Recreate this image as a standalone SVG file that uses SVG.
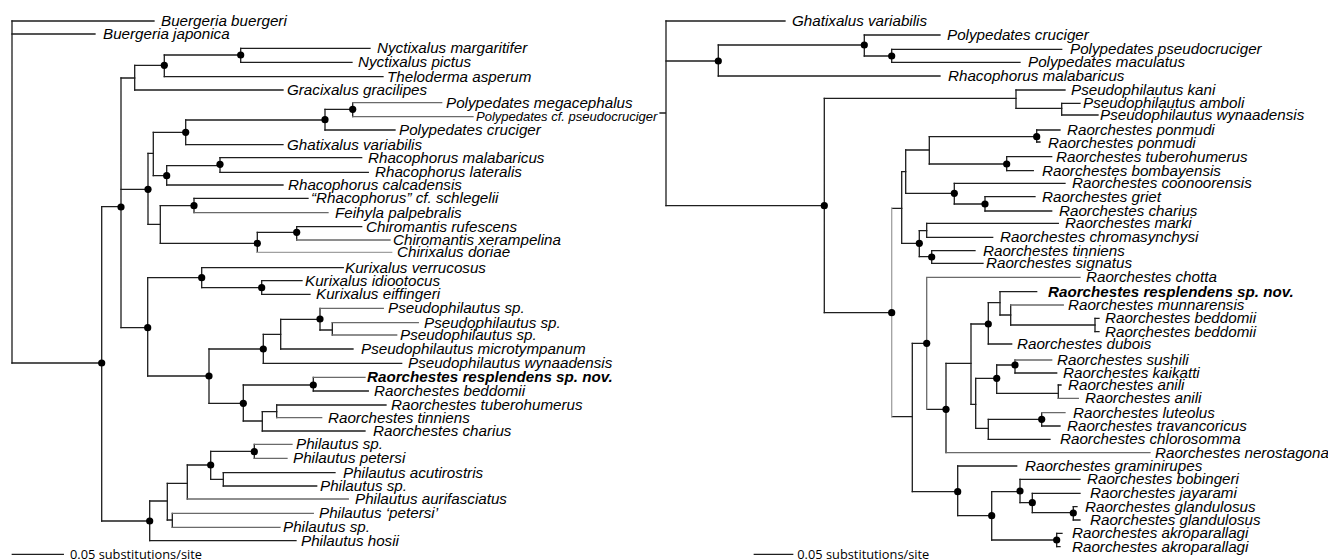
<svg xmlns="http://www.w3.org/2000/svg" width="1328" height="559" viewBox="0 0 1328 559">
<style>
.bg{fill:#ffffff}
.c path{fill:none;stroke:#1e1e1e;stroke-width:1.3;stroke-linecap:square}
.c path.g{stroke:#6a6a6a}
.c path.l{stroke:#a0a0a0}
.d circle{fill:#000}
text{font-family:"Liberation Sans",Arial,sans-serif;font-size:15.2px;font-style:italic;fill:#000}
text.b{font-weight:bold}
text.s{font-size:13px}
text.sc{font-family:"Open Sans","Noto Sans",sans-serif;font-style:normal;font-size:12px}
</style>
<rect class="bg" x="0" y="0" width="1328" height="559"/>

<!-- LEFT TREE connectors -->
<g id="connectors-left" class="c">
<path d="M12,21V363M101.7,206.7V521M121,78V327.7M134.7,65.3V90M164.3,55V76.7M240.7,48.3V62.3M148,153.3V224.3M153.3,132.3V175.7M185.7,120V144.7M325,109.3V130M352.7,102.7V116.7M166.7,165.7V185M220,157.7V172.3M160.3,205.7V243.3M194,198.3V212.7M257.3,232.3V252.3M296.7,226.7V240M147.7,277.7V376M201.7,267.7V287.7M261.7,280.7V294.3M209,349V403.3M263.3,334.3V363.3M280.7,319.3V349M320,308.3V330M332.3,322.7V335M243.3,385V421M313.3,377.3V391M262.3,411.7V431M276.7,405V417.7M149.7,501V540.7M167.3,483.3V520M187.3,465V499M210.7,451.3V479.3M254.3,444.3V458.3M223.3,472.7V486M172.3,513.3V527.3"/>
<path d="M12,21H154M12,34H95M12,363H101.7M101.7,206.7H121M101.7,521H149.7M121,78H134.7M121,189.3H148M121,327.7H147.7M134.7,65.3H164.3M134.7,90H283M164.3,55H240.7M164.3,76.7H383M240.7,48.3H370M240.7,62.3H352M148,153.3H153.3M148,224.3H160.3M153.3,132.3H185.7M153.3,175.7H166.7M185.7,120H325M185.7,144.7H283M325,109.3H352.7M325,130H395M166.7,165.7H220M166.7,185H283M220,157.7H361.7M220,172.3H368.3M160.3,205.7H194M160.3,243.3H257.3M194,198.3H308M257.3,232.3H296.7M296.7,226.7H361.7M147.7,277.7H201.7M147.7,376H209M201.7,267.7H343.3M201.7,287.7H261.7M261.7,280.7H302M261.7,294.3H310M209,349H263.3M209,403.3H243.3M263.3,334.3H280.7M263.3,363.3H401.7M280.7,319.3H320M280.7,349H353M320,330H332.3M243.3,385H313.3M243.3,421H262.3M313.3,391H368.3M262.3,411.7H276.7M262.3,431H365M276.7,405H386M149.7,501H167.3M149.7,540.7H296M167.3,483.3H187.3M167.3,520H172.3M187.3,465H210.7M210.7,451.3H254.3M210.7,479.3H223.3M223.3,472.7H335M223.3,486H316.7"/>
<path class="g" d="M352.7,102.7H441.7M352.7,116.7H473M194,212.7H328M296.7,240H390M320,308.3H383.3M332.3,322.7H418.3M332.3,335H396.7M313.3,377.3H365M276.7,417.7H321.7M254.3,444.3H292M254.3,458.3H287M187.3,499H348.3M172.3,513.3H313.3M172.3,527.3H280"/>
<path class="l" d="M257.3,252.3H391.7"/>
<path d="M12.3,554.3H63.3"/>
</g>

<!-- RIGHT TREE connectors -->
<g id="connectors-right" class="c">
<path d="M660,113H666M666,21V205.7M718.3,45V76M864.3,35V56M891.7,49.3V62.3M824.3,98.3V312.7M1016,90V108.3M1061.7,103.3V115M901.7,171.7V243.3M905.7,150V193.3M929.3,136.7V164M1036.7,130V142M1006.7,156.7V170.7M954.3,183.3V204M985,196.7V211M919.3,230.7V256.7M926.7,223.3V237.3M931.7,250.7V263.3M912.3,343.3V491.7M946,363.3V452.7M971,324V404.3M988.3,302.7V344M1000,291.7V315M1010.7,305V325M1095,318.3V331.7M975.7,378.3V428.3M996.7,365V393.3M1015,360V373M1058.3,385V398.3M988.3,419.3V439.3M1041.7,412.7V426M957.7,466V515.7M991.7,491.7V540M1020,479.3V502.7M1032.3,493.3V512.7M1073.3,506.7V520M1056.7,533.3V546.7"/>
<path d="M666,21H785M666,61H718.3M666,205.7H824.3M718.3,45H864.3M718.3,76H940M864.3,35H940M864.3,56H891.7M891.7,49.3H1061.7M891.7,62.3H1020M824.3,98.3H1016M824.3,312.7H891.7M1016,90H1065M1016,108.3H1061.7M1061.7,103.3H1080M1061.7,115H1098M891.7,208.3H901.7M891.7,416.7H912.3M901.7,171.7H905.7M901.7,243.3H919.3M905.7,150H929.3M905.7,193.3H954.3M929.3,136.7H1036.7M929.3,164H1006.7M1036.7,130H1060M1036.7,142H1040M1006.7,156.7H1051.7M1006.7,170.7H1033.3M954.3,183.3H1065M954.3,204H985M985,196.7H1035M985,211H1051.7M919.3,230.7H926.7M919.3,256.7H931.7M926.7,223.3H1058.3M926.7,237.3H992.7M931.7,250.7H975M931.7,263.3H983M912.3,343.3H926.7M912.3,491.7H957.7M926.7,409.3H946M946,363.3H971M971,324H988.3M971,404.3H975.7M988.3,302.7H1000M988.3,344H1011.7M1000,291.7H1036.7M1000,315H1010.7M1010.7,325H1095M1095,318.3H1099M1095,331.7H1099M975.7,378.3H996.7M975.7,428.3H988.3M996.7,365H1015M996.7,393.3H1058.3M1015,373H1056.7M1058.3,385H1061M988.3,419.3H1041.7M988.3,439.3H1050M1041.7,426H1060M957.7,466H1016.7M957.7,515.7H991.7M991.7,491.7H1020M991.7,540H1056.7M1020,479.3H1080M1020,502.7H1032.3M1032.3,493.3H1080M1032.3,512.7H1073.3M1073.3,506.7H1077M1073.3,520H1080M1056.7,533.3H1062M1056.7,546.7H1060"/>
<path class="g" d="M926.7,277.3V409.3M926.7,277.3H1080M1010.7,305H1063.3M946,452.7H1150M1015,360H1051.7M1041.7,412.7H1065M1058.3,398.3H1078.3"/>
<path class="l" d="M891.7,208.3V416.7"/>
<path d="M754.3,554.3H792.7"/>
</g>

<g id="support-dots" class="d">
<circle cx="101.7" cy="363" r="3.6"/><circle cx="121" cy="207" r="3.6"/><circle cx="164.3" cy="65.3" r="3.6"/><circle cx="240.7" cy="55" r="3.6"/><circle cx="148" cy="189.3" r="3.6"/><circle cx="185.7" cy="132.3" r="3.6"/><circle cx="325" cy="119.7" r="3.6"/><circle cx="352.7" cy="109.3" r="3.6"/><circle cx="166.7" cy="175.7" r="3.6"/><circle cx="220" cy="164.3" r="3.6"/><circle cx="194" cy="205.7" r="3.6"/><circle cx="257.3" cy="243.3" r="3.6"/><circle cx="296.7" cy="232.3" r="3.6"/><circle cx="147.7" cy="327.7" r="3.6"/><circle cx="201.7" cy="277.7" r="3.6"/><circle cx="261.7" cy="287.7" r="3.6"/><circle cx="209" cy="376" r="3.6"/><circle cx="263.3" cy="349" r="3.6"/><circle cx="320" cy="319" r="3.6"/><circle cx="243.3" cy="403.3" r="3.6"/><circle cx="313.3" cy="385" r="3.6"/><circle cx="149.7" cy="521" r="3.6"/><circle cx="210.7" cy="465" r="3.6"/><circle cx="254.3" cy="451.7" r="3.6"/>
<circle cx="718.3" cy="61" r="3.6"/><circle cx="864.3" cy="45" r="3.6"/><circle cx="891.7" cy="56" r="3.6"/><circle cx="824.3" cy="205.7" r="3.6"/><circle cx="891.7" cy="312.7" r="3.6"/><circle cx="1036.7" cy="136.7" r="3.6"/><circle cx="1006.7" cy="164" r="3.6"/><circle cx="954.3" cy="193.3" r="3.6"/><circle cx="985" cy="204" r="3.6"/><circle cx="919.3" cy="243.3" r="3.6"/><circle cx="931.7" cy="257" r="3.6"/><circle cx="926.7" cy="343.3" r="3.6"/><circle cx="957.7" cy="491.7" r="3.6"/><circle cx="946" cy="409.3" r="3.6"/><circle cx="988.3" cy="324" r="3.6"/><circle cx="996.7" cy="378.3" r="3.6"/><circle cx="1015" cy="365" r="3.6"/><circle cx="1041.7" cy="419.3" r="3.6"/><circle cx="991.7" cy="515.7" r="3.6"/><circle cx="1020" cy="491" r="3.6"/><circle cx="1032.3" cy="502.7" r="3.6"/><circle cx="1073.3" cy="513" r="3.6"/><circle cx="1056.7" cy="540" r="3.6"/>
</g>

<!-- LEFT TREE labels -->
<g id="L01"><text x="161" y="26">Buergeria buergeri</text></g>
<g id="L02"><text x="103" y="39">Buergeria japonica</text></g>
<g id="L03"><text x="377" y="53.3">Nyctixalus margaritifer</text></g>
<g id="L04"><text x="358" y="67.3">Nyctixalus pictus</text></g>
<g id="L05"><text x="387" y="81.7">Theloderma asperum</text></g>
<g id="L06"><text x="287" y="95">Gracixalus gracilipes</text></g>
<g id="L07"><text x="446" y="107.7">Polypedates megacephalus</text></g>
<g id="L08"><text class="s" x="476" y="121">Polypedates cf. pseudocruciger</text></g>
<g id="L09"><text x="399" y="135">Polypedates cruciger</text></g>
<g id="L10"><text x="287" y="149.7">Ghatixalus variabilis</text></g>
<g id="L11"><text x="368" y="162.7">Rhacophorus malabaricus</text></g>
<g id="L12"><text x="375" y="177.3">Rhacophorus lateralis</text></g>
<g id="L13"><text x="288" y="190">Rhacophorus calcadensis</text></g>
<g id="L14"><text x="311" y="203.3">“Rhacophorus” cf. schlegelii</text></g>
<g id="L15"><text x="335" y="217.7">Feihyla palpebralis</text></g>
<g id="L16"><text x="366" y="231.7">Chiromantis rufescens</text></g>
<g id="L17"><text x="393" y="245">Chiromantis xerampelina</text></g>
<g id="L18"><text x="397" y="257.3">Chirixalus doriae</text></g>
<g id="L19"><text x="345" y="272.7">Kurixalus verrucosus</text></g>
<g id="L20"><text x="305" y="285.7">Kurixalus idiootocus</text></g>
<g id="L21"><text x="316" y="299.3">Kurixalus eiffingeri</text></g>
<g id="L22"><text x="388" y="313.3">Pseudophilautus sp.</text></g>
<g id="L23"><text x="424" y="327.7">Pseudophilautus sp.</text></g>
<g id="L24"><text x="400" y="340">Pseudophilautus sp.</text></g>
<g id="L25"><text x="361" y="354">Pseudophilautus microtympanum</text></g>
<g id="L26"><text x="408" y="368.3">Pseudophilautus wynaadensis</text></g>
<g id="L27"><text class="b" x="367" y="382.3">Raorchestes resplendens sp. nov.</text></g>
<g id="L28"><text x="374" y="396">Raorchestes beddomii</text></g>
<g id="L29"><text x="391" y="410">Raorchestes tuberohumerus</text></g>
<g id="L30"><text x="328" y="422.7">Raorchestes tinniens</text></g>
<g id="L31"><text x="373" y="436">Raorchestes charius</text></g>
<g id="L32"><text x="296" y="449.3">Philautus sp.</text></g>
<g id="L33"><text x="293" y="463.3">Philautus petersi</text></g>
<g id="L34"><text x="343" y="477.7">Philautus acutirostris</text></g>
<g id="L35"><text x="320" y="491">Philautus sp.</text></g>
<g id="L36"><text x="355" y="504">Philautus aurifasciatus</text></g>
<g id="L37"><text x="319" y="518.3">Philautus ‘petersi’</text></g>
<g id="L38"><text x="283" y="532.3">Philautus sp.</text></g>
<g id="L39"><text x="301" y="545.7">Philautus hosii</text></g>
<g id="scale-left"><text class="sc" x="70" y="558.5" textLength="132" lengthAdjust="spacingAndGlyphs">0.05 substitutions/site</text></g>

<!-- RIGHT TREE labels -->
<g id="R01"><text x="792" y="26">Ghatixalus variabilis</text></g>
<g id="R02"><text x="947" y="40">Polypedates cruciger</text></g>
<g id="R03"><text x="1070" y="54.3">Polypedates pseudocruciger</text></g>
<g id="R04"><text x="1028" y="67.3">Polypedates maculatus</text></g>
<g id="R05"><text x="948" y="81">Rhacophorus malabaricus</text></g>
<g id="R06"><text x="1071" y="95">Pseudophilautus kani</text></g>
<g id="R07"><text x="1083" y="108.3">Pseudophilautus amboli</text></g>
<g id="R08"><text x="1100" y="120">Pseudophilautus wynaadensis</text></g>
<g id="R09"><text x="1067" y="135">Raorchestes ponmudi</text></g>
<g id="R10"><text x="1048" y="148">Raorchestes ponmudi</text></g>
<g id="R11"><text x="1056" y="161.7">Raorchestes tuberohumerus</text></g>
<g id="R12"><text x="1042" y="175.7">Raorchestes bombayensis</text></g>
<g id="R13"><text x="1072" y="188.3">Raorchestes coonoorensis</text></g>
<g id="R14"><text x="1042" y="201.7">Raorchestes griet</text></g>
<g id="R15"><text x="1059" y="216">Raorchestes charius</text></g>
<g id="R16"><text x="1065" y="228.3">Raorchestes marki</text></g>
<g id="R17"><text x="1000" y="242.3">Raorchestes chromasynchysi</text></g>
<g id="R18"><text x="983" y="255.7">Raorchestes tinniens</text></g>
<g id="R19"><text x="986" y="268.3">Raorchestes signatus</text></g>
<g id="R20"><text x="1086" y="282.3">Raorchestes chotta</text></g>
<g id="R21"><text class="b" x="1048" y="296.7">Raorchestes resplendens sp. nov.</text></g>
<g id="R22"><text x="1068" y="310">Raorchestes munnarensis</text></g>
<g id="R23"><text x="1105" y="323.3">Raorchestes beddomii</text></g>
<g id="R24"><text x="1105" y="336.7">Raorchestes beddomii</text></g>
<g id="R25"><text x="1017" y="349">Raorchestes dubois</text></g>
<g id="R26"><text x="1057" y="365">Raorchestes sushili</text></g>
<g id="R27"><text x="1063" y="378">Raorchestes kaikatti</text></g>
<g id="R28"><text x="1068" y="390">Raorchestes anili</text></g>
<g id="R29"><text x="1085" y="403.3">Raorchestes anili</text></g>
<g id="R30"><text x="1073" y="417.7">Raorchestes luteolus</text></g>
<g id="R31"><text x="1067" y="431">Raorchestes travancoricus</text></g>
<g id="R32"><text x="1060" y="444.3">Raorchestes chlorosomma</text></g>
<g id="R33"><text x="1155" y="457.7">Raorchestes nerostagona</text></g>
<g id="R34"><text x="1025" y="471">Raorchestes graminirupes</text></g>
<g id="R35"><text x="1087" y="484.3">Raorchestes bobingeri</text></g>
<g id="R36"><text x="1090" y="498.3">Raorchestes jayarami</text></g>
<g id="R37"><text x="1085" y="511.7">Raorchestes glandulosus</text></g>
<g id="R38"><text x="1090" y="525">Raorchestes glandulosus</text></g>
<g id="R39"><text x="1072" y="538.3">Raorchestes akroparallagi</text></g>
<g id="R40"><text x="1072" y="551.7">Raorchestes akroparallagi</text></g>
<g id="scale-right"><text class="sc" x="797.3" y="558.5" textLength="132" lengthAdjust="spacingAndGlyphs">0.05 substitutions/site</text></g>
</svg>
